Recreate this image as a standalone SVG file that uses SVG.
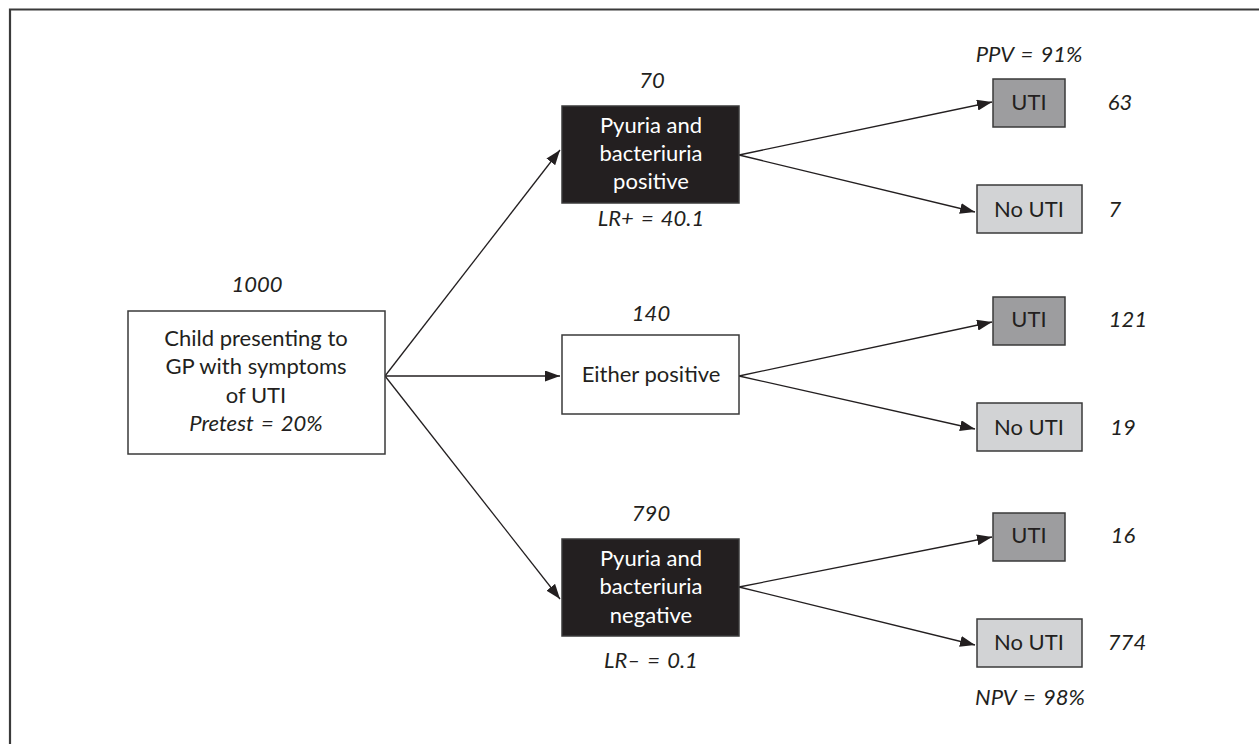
<svg xmlns="http://www.w3.org/2000/svg" width="1259" height="744" viewBox="0 0 1259 744">
  <defs>
    <marker id="arrow" viewBox="0 0 15 11" refX="15" refY="5.5" markerWidth="15" markerHeight="11" markerUnits="userSpaceOnUse" orient="auto">
      <path d="M0,0 L15,5.5 L0,11 Z" fill="#231f20"/>
    </marker>
    <style>
      text { font-family: Lato, "Open Sans", "Liberation Sans", sans-serif; font-size: 22px; fill: #231f20; text-anchor: middle; }
      .it { font-style: italic; word-spacing: 2px; }
      .inv { fill: #ffffff; }
      .box { stroke: #3a3a3a; stroke-width: 1.5; }
      .white { fill: #ffffff; }
      .black { fill: #231f20; }
      .dark { fill: #9d9d9f; }
      .light { fill: #d2d3d5; }
      .conn line { stroke: #231f20; stroke-width: 1.3; marker-end: url(#arrow); }
    </style>
  </defs>

  <rect width="1259" height="744" fill="#ffffff"/>
  <!-- frame -->
  <path d="M10,744 V9.5 H1259" fill="none" stroke="#3a3a3a" stroke-width="2.2"/>

  <!-- connectors -->
  <g id="connectors" class="conn">
    <line x1="385" y1="376" x2="560" y2="150"/>
    <line x1="385" y1="376" x2="560" y2="376"/>
    <line x1="385" y1="376" x2="560" y2="599"/>
    <line x1="739" y1="155" x2="992" y2="102"/>
    <line x1="739" y1="155" x2="975" y2="212"/>
    <line x1="739" y1="376" x2="992" y2="322"/>
    <line x1="739" y1="376" x2="975" y2="429"/>
    <line x1="739" y1="587" x2="992" y2="537"/>
    <line x1="739" y1="587" x2="975" y2="645"/>
  </g>

  <!-- start node -->
  <g id="start">
    <text class="it" x="257" y="292">1000</text>
    <rect class="box white" x="128" y="311" width="257" height="143"/>
    <text x="256" y="346">Child presenting to</text>
    <text x="256" y="374">GP with symptoms</text>
    <text x="256" y="403">of UTI</text>
    <text class="it" x="256" y="431">Pretest = 20%</text>
  </g>

  <!-- test result nodes -->
  <g id="positive">
    <text class="it" x="652" y="88">70</text>
    <rect class="box black" x="562" y="106" width="177" height="97"/>
    <text class="inv" x="651" y="133">Pyuria and</text>
    <text class="inv" x="651" y="161">bacteriuria</text>
    <text class="inv" x="651" y="189">positive</text>
    <text class="it" x="651" y="226">LR+ = 40.1</text>
  </g>

  <g id="either">
    <text class="it" x="651" y="321">140</text>
    <rect class="box white" x="562" y="335" width="177" height="79"/>
    <text x="651" y="382">Either positive</text>
  </g>

  <g id="negative">
    <text class="it" x="651" y="521">790</text>
    <rect class="box black" x="562" y="539" width="177" height="97"/>
    <text class="inv" x="651" y="566">Pyuria and</text>
    <text class="inv" x="651" y="594">bacteriuria</text>
    <text class="inv" x="651" y="623">negative</text>
    <text class="it" x="651" y="668">LR– = 0.1</text>
  </g>

  <!-- outcome nodes -->
  <g id="pos-uti">
    <text class="it" x="1029" y="62">PPV = 91%</text>
    <rect class="box dark" x="993" y="79" width="72" height="48"/>
    <text x="1029" y="110">UTI</text>
    <text class="it" x="1120" y="110">63</text>
  </g>
  <g id="pos-no-uti">
    <rect class="box light" x="977" y="185" width="105" height="48"/>
    <text x="1029" y="217">No UTI</text>
    <text class="it" x="1115" y="217">7</text>
  </g>

  <g id="either-uti">
    <rect class="box dark" x="993" y="297" width="72" height="48"/>
    <text x="1029" y="327">UTI</text>
    <text class="it" x="1128" y="327">121</text>
  </g>
  <g id="either-no-uti">
    <rect class="box light" x="977" y="403" width="105" height="48"/>
    <text x="1029" y="435">No UTI</text>
    <text class="it" x="1123" y="435">19</text>
  </g>

  <g id="neg-uti">
    <rect class="box dark" x="993" y="513" width="72" height="48"/>
    <text x="1029" y="543">UTI</text>
    <text class="it" x="1123" y="543">16</text>
  </g>
  <g id="neg-no-uti">
    <rect class="box light" x="977" y="619" width="105" height="48"/>
    <text x="1029" y="650">No UTI</text>
    <text class="it" x="1127" y="650">774</text>
    <text class="it" x="1030" y="705">NPV = 98%</text>
  </g>
</svg>
